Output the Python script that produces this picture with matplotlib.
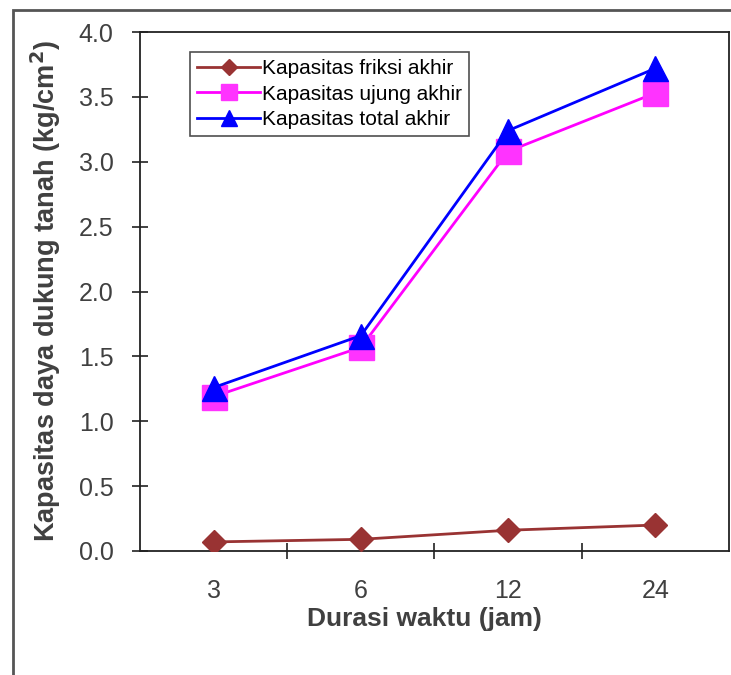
import matplotlib
matplotlib.use("Agg")
import matplotlib.pyplot as plt
from matplotlib.patches import Rectangle

plt.rcParams['font.family'] = ['Liberation Sans', 'DejaVu Sans']

categories = ['3', '6', '12', '24']
friksi = [0.07, 0.09, 0.16, 0.20]
ujung = [1.19, 1.57, 3.08, 3.53]
total = [1.26, 1.66, 3.24, 3.72]
yticks = [0.0, 0.5, 1.0, 1.5, 2.0, 2.5, 3.0, 3.5, 4.0]

fig = plt.figure(figsize=(7.31, 6.75), dpi=100)
W, H = 731, 675
# outer frame
fig.patches.append(Rectangle((13 / W, -0.01), 1.0, (H - 10) / H + 0.01, transform=fig.transFigure,
                             fill=False, edgecolor='#555555', linewidth=2.0, zorder=0))

ax = fig.add_axes([140 / W, (H - 551) / H, (729 - 140) / W, (551 - 32) / H])
x = list(range(len(categories)))

ax.plot(x, friksi, color='#993333', lw=2.0, marker='D', ms=12.5, mfc='#993333', mec='#993333',
        label='Kapasitas friksi akhir', zorder=3)
ax.plot(x, ujung, color='#FF00FF', lw=2.0, marker='s', ms=18, mfc='#FF33FF', mec='#FF33FF',
        label='Kapasitas ujung akhir', zorder=3)
ax.plot(x, total, color='#0000FF', lw=2.0, marker='^', ms=18, mfc='#0000FF', mec='#0000FF',
        label='Kapasitas total akhir', zorder=4)

ax.set_xlim(-0.5, len(categories) - 0.5)
ax.set_ylim(0, 4.0)
ax.set_yticks(yticks)
ax.set_yticklabels([f'{v:.1f}' for v in yticks])
ax.set_xticks([i + 0.5 for i in range(len(categories) - 1)])
ax.set_xticklabels([])
ax.set_xticks(x, minor=True)
ax.set_xticklabels(categories, minor=True)
ax.tick_params(axis='x', which='minor', length=0, pad=20, labelsize=18, labelcolor='#404040')
ax.tick_params(axis='x', which='major', direction='inout', length=12, width=1.2, color='#222222')
ax.tick_params(axis='y', direction='inout', length=12, width=1.2, color='#222222',
               labelsize=18, labelcolor='#404040', pad=13)
for s in ax.spines.values():
    s.set_linewidth(1.3)
    s.set_color('#222222')

ax.set_xlabel('Durasi waktu (jam)', fontsize=19, fontweight='bold', color='#404040', labelpad=0)
ax.xaxis.set_label_coords((424 - 140) / 589, -0.108)
ax.xaxis.label.set_va('top')
ax.set_ylabel('Kapasitas daya dukung tanah (kg/cm$^\\mathbf{2}$)', fontsize=19.5, fontweight='bold',
              color='#404040', labelpad=11)

leg = ax.legend(loc='upper left', bbox_to_anchor=((190 - 140) / 589, (551 - 52) / 519),
                frameon=True, fancybox=False, shadow=False, fontsize=15, handlelength=3.0,
                borderpad=0.35, labelspacing=0.3, handletextpad=0.1, borderaxespad=0,
                markerscale=0.65)
leg.get_frame().set_edgecolor('#222222')
leg.get_frame().set_linewidth(1.2)

fig.savefig('out.png', dpi=100)
